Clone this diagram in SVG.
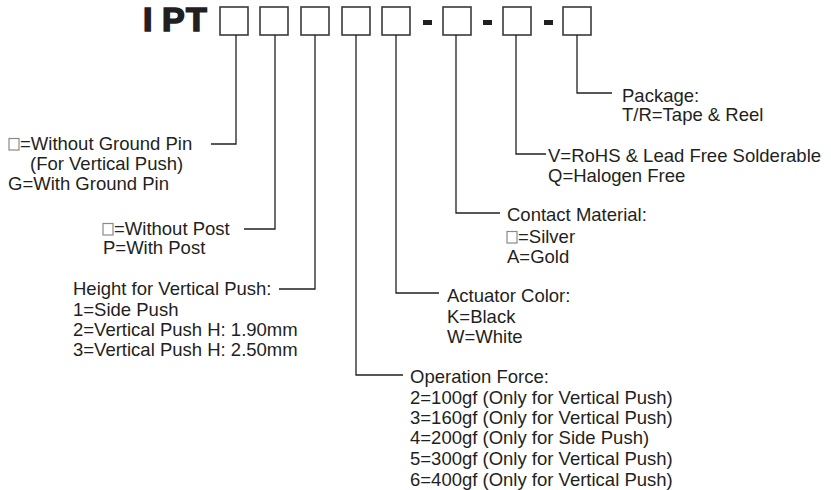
<svg xmlns="http://www.w3.org/2000/svg" width="831" height="490" viewBox="0 0 831 490">
<style>
.t{font-family:"Liberation Sans",Arial,sans-serif;font-size:18.5px;fill:#231f20}
.title{font-family:"Liberation Sans",Arial,sans-serif;font-size:34px;font-weight:bold;fill:#231f20;stroke:#231f20;stroke-width:1.6}
.box{fill:#fff;stroke:#3a3a3a;stroke-width:1.6}
.sb{fill:#fff;stroke:#8a8a8a;stroke-width:1.2}
.dash{fill:#231f20}
.ln{fill:none;stroke:#231f20;stroke-width:1.3}
</style>
<rect width="831" height="490" fill="#fff"/>
<g id="title">
<text class="title" x="143" y="31">I</text>
<text class="title" x="162" y="31">P</text>
<text class="title" x="186" y="31">T</text>
<rect class="box" x="220" y="7" width="28" height="28"/>
<rect class="box" x="260" y="7" width="28" height="28"/>
<rect class="box" x="301" y="7" width="28" height="28"/>
<rect class="box" x="342" y="7" width="28" height="28"/>
<rect class="box" x="382" y="7" width="28" height="28"/>
<rect class="dash" x="423" y="20" width="9" height="5"/>
<rect class="box" x="443" y="7" width="28" height="28"/>
<rect class="dash" x="483" y="20" width="9" height="5"/>
<rect class="box" x="503" y="7" width="28" height="28"/>
<rect class="dash" x="544" y="20" width="9" height="5"/>
<rect class="box" x="563" y="7" width="28" height="28"/>
</g>
<g id="connectors">
<path class="ln" d="M236 35V144H211"/>
<path class="ln" d="M275 35V229H244"/>
<path class="ln" d="M315 35V289H279"/>
<path class="ln" d="M356 35V375H403"/>
<path class="ln" d="M396 35V293H439"/>
<path class="ln" d="M456 35V213H500"/>
<path class="ln" d="M516 35V154H546"/>
<path class="ln" d="M577 35V93H612"/>
</g>
<g id="ground-pin">
<rect class="sb" x="9" y="138.5" width="10" height="11.5"/>
<text class="t" x="20" y="150">=Without Ground Pin</text>
<text class="t" x="30" y="170">(For Vertical Push)</text>
<text class="t" x="8" y="190">G=With Ground Pin</text>
</g>
<g id="post">
<rect class="sb" x="103" y="223.5" width="10" height="11.5"/>
<text class="t" x="114" y="235">=Without Post</text>
<text class="t" x="103" y="254">P=With Post</text>
</g>
<g id="height">
<text class="t" x="73" y="295">Height for Vertical Push:</text>
<text class="t" x="73" y="316">1=Side Push</text>
<text class="t" x="73" y="336">2=Vertical Push H: 1.90mm</text>
<text class="t" x="73" y="356">3=Vertical Push H: 2.50mm</text>
</g>
<g id="operation-force">
<text class="t" x="410" y="383">Operation Force:</text>
<text class="t" x="410" y="404">2=100gf (Only for Vertical Push)</text>
<text class="t" x="410" y="424">3=160gf (Only for Vertical Push)</text>
<text class="t" x="410" y="444">4=200gf (Only for Side Push)</text>
<text class="t" x="410" y="465">5=300gf (Only for Vertical Push)</text>
<text class="t" x="410" y="486">6=400gf (Only for Vertical Push)</text>
</g>
<g id="actuator-color">
<text class="t" x="447" y="302">Actuator Color:</text>
<text class="t" x="447" y="323">K=Black</text>
<text class="t" x="447" y="343">W=White</text>
</g>
<g id="contact-material">
<text class="t" x="507" y="221">Contact Material:</text>
<rect class="sb" x="507" y="231.5" width="10" height="11.5"/>
<text class="t" x="518" y="243">=Silver</text>
<text class="t" x="507" y="263">A=Gold</text>
</g>
<g id="rohs">
<text class="t" x="548" y="162">V=RoHS &amp; Lead Free Solderable</text>
<text class="t" x="548" y="182">Q=Halogen Free</text>
</g>
<g id="package">
<text class="t" x="622" y="102">Package:</text>
<text class="t" x="622" y="121">T/R=Tape &amp; Reel</text>
</g>
</svg>
